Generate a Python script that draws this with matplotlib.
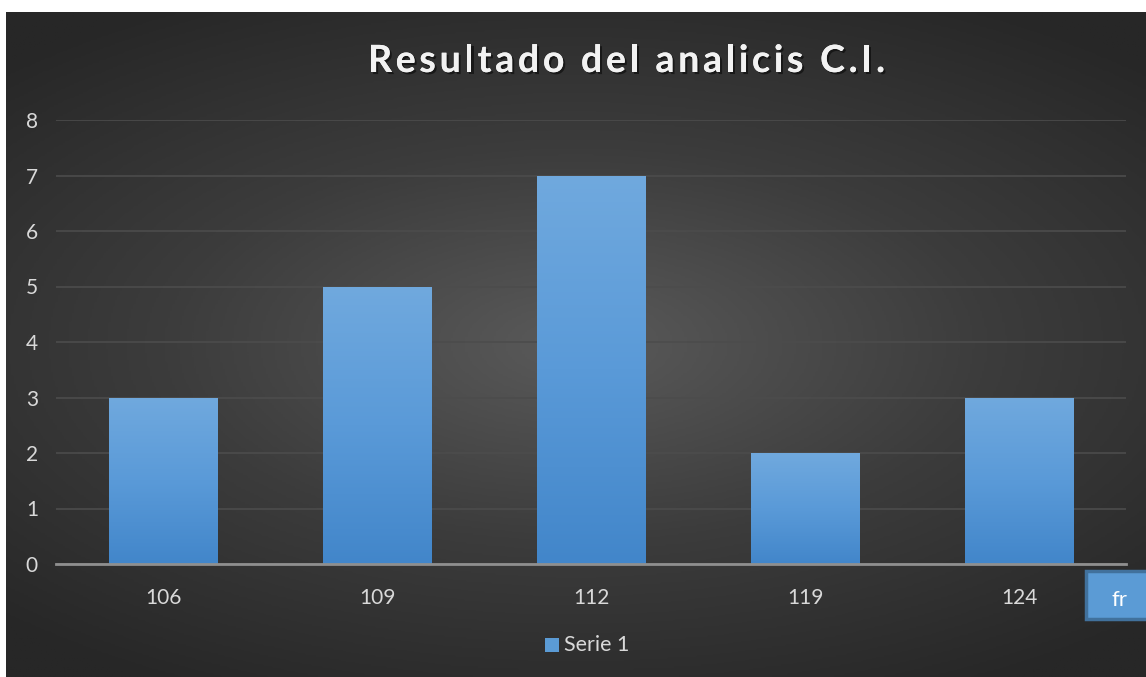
import matplotlib.pyplot as plt
import numpy as np
from matplotlib.patches import Rectangle
import matplotlib.patheffects as pe
from matplotlib.colors import LinearSegmentedColormap

categories = ['106', '109', '112', '119', '124']
values = [3, 5, 7, 2, 3]
series_name = 'Serie 1'
title = 'Resultado del analicis C.I.'

plt.rcParams['font.family'] = ['Lato', 'DejaVu Sans']

W, H = 1146, 677
fig = plt.figure(figsize=(W / 100, H / 100), dpi=100, facecolor='white')

# dark radial background
bg = fig.add_axes([6 / W, 0, 1 - 6 / W, 1 - 12 / H])
bg.set_axis_off()
yy, xx = np.mgrid[-1:1:300j, -1:1:500j]
r = np.sqrt((xx * 0.9) ** 2 + (yy * 1.1) ** 2)
bgcm = LinearSegmentedColormap.from_list('bg', ['#5a5a5a', '#3c3c3c', '#272727'])
bg.imshow(r, cmap=bgcm, vmin=0, vmax=1.3, aspect='auto', extent=[0, 1, 0, 1])
bg.set_xlim(0, 1)
bg.set_ylim(0, 1)

# plot area
left, right = 56 / W, 1126 / W
bottom, top = 1 - 564 / H, 1 - 120 / H
ax = fig.add_axes([left, bottom, right - left, top - bottom])
ax.patch.set_alpha(0)
x = np.arange(len(categories))
bars = ax.bar(x, values, width=0.505, color='#5b9bd5', zorder=3)

barcm = LinearSegmentedColormap.from_list('bar', ['#4286ca', '#5a9ad8', '#70a9de'])
grad = np.linspace(0, 1, 256).reshape(-1, 1)
for b in bars:
    bx, by = b.get_x(), b.get_y()
    bw, bh = b.get_width(), b.get_height()
    im = ax.imshow(grad, cmap=barcm, origin='lower', aspect='auto',
                   extent=[bx, bx + bw, by, by + bh], zorder=4)
    im.set_clip_path(b)

ax.set_xlim(-0.5, len(categories) - 0.5)
ax.set_ylim(0, 8)
ax.set_yticks(range(0, 9))
ax.set_xticks(x)
ax.set_xticklabels(categories)
ax.grid(axis='y', color='#4c4c4c', linewidth=1.2, zorder=1)
ax.set_axisbelow(True)
for s in ['top', 'right', 'left']:
    ax.spines[s].set_visible(False)
ax.spines['bottom'].set_color('#8f8f8f')
ax.spines['bottom'].set_linewidth(2)
ax.spines['bottom'].set_zorder(5)
ax.tick_params(axis='both', length=0, colors='#d9d9d9', labelsize=15)
ax.tick_params(axis='y', pad=13)
ax.tick_params(axis='x', pad=17)

# title with letter spacing
renderer = fig.canvas.get_renderer()
tkw = dict(fontsize=27, fontweight='bold', color='#f2f2f2')
widths = []
for ch in title:
    if ch == ' ':
        t = fig.text(0, 0, 'a a', **tkw)
        wa = fig.text(0, 0, 'aa', **tkw)
        widths.append(t.get_window_extent(renderer).width - wa.get_window_extent(renderer).width)
        wa.remove()
    else:
        t = fig.text(0, 0, ch, **tkw)
        widths.append(t.get_window_extent(renderer).width)
    t.remove()
target_left, target_right = 368, 885
gap = (target_right - target_left - sum(widths)) / (len(title) - 1)
cx = target_left
for ch, w in zip(title, widths):
    if ch != ' ':
        fig.text(cx / W, 1 - 61 / H, ch, ha='left', va='center', **tkw,
                 path_effects=[pe.withSimplePatchShadow(offset=(1.5, -1.5), shadow_rgbFace='black', alpha=0.5),
                               pe.Normal()])
    cx += w + gap

# legend
fig.patches.append(Rectangle((545 / W, 1 - 652 / H), 14 / W, 14 / H,
                             transform=fig.transFigure, facecolor='#5b9bd5', edgecolor='none'))
fig.text(564 / W, 1 - 645 / H, series_name, ha='left', va='center', fontsize=15.5, color='#d9d9d9')

# "fr" box
fig.patches.append(Rectangle((1086 / W, 1 - 619 / H), 62 / W, 48 / H,
                             transform=fig.transFigure, facecolor='#5b9bd5',
                             edgecolor='#41719c', linewidth=2.5))
fig.text(1119 / W, 1 - 600 / H, 'fr', ha='center', va='center', fontsize=16, color='white')

fig.savefig('out.png', dpi=100, facecolor='white')
